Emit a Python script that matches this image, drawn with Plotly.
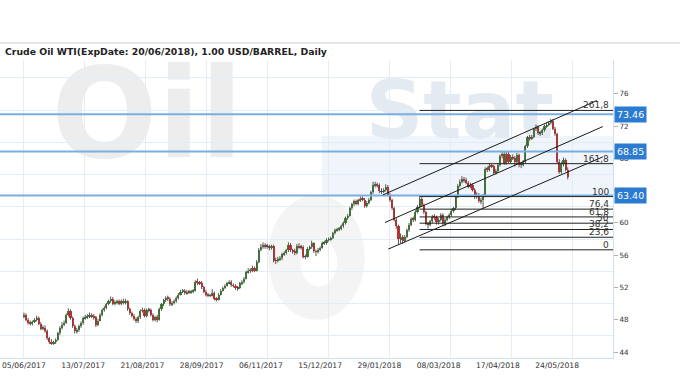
import plotly.graph_objects as go

# ---------------- data ----------------
closes = [48.6, 48.0, 47.6, 47.5, 47.7, 48.0, 48.2, 47.5, 46.9, 47.0,
          46.6, 45.7, 45.3, 45.1, 45.2, 45.5, 46.3, 47.0, 47.4, 47.6,
          48.6, 49.1, 48.2, 47.2, 46.6, 46.7, 47.2, 47.6, 48.2, 48.3,
          48.4, 48.6, 48.4, 48.3, 47.3, 47.9, 48.6, 49.2, 49.5, 49.9,
          50.3, 50.6, 50.0, 50.1, 50.3, 50.0, 50.3, 50.1, 50.3, 49.3,
          48.8, 48.5, 48.1, 47.8, 48.3, 49.1, 49.2, 48.5, 49.2, 49.2,
          48.6, 48.0, 48.3, 48.0, 49.3, 49.9, 50.4, 50.7, 50.6, 49.9,
          50.1, 50.3, 50.7, 51.1, 51.5, 51.6, 51.3, 51.5, 51.4, 51.5,
          51.6, 52.7, 52.6, 52.5, 52.0, 51.5, 51.1, 51.0, 51.0, 51.3,
          50.6, 50.5, 51.1, 51.6, 51.9, 52.2, 52.5, 52.7, 52.3, 52.2,
          51.9, 51.9, 52.5, 52.7, 53.1, 53.9, 54.1, 54.1, 54.4, 54.1,
          55.2, 56.7, 57.0, 57.3, 57.1, 57.1, 56.9, 57.1, 55.3, 55.3,
          55.5, 55.6, 56.1, 56.3, 56.6, 57.3, 56.6, 56.5, 56.3, 57.2,
          57.0, 57.0, 55.8, 55.8, 56.8, 57.0, 57.5, 56.5, 56.4, 56.7,
          56.9, 57.5, 57.5, 57.9, 58.0, 58.1, 58.7, 59.1, 59.2, 59.3,
          59.6, 60.0, 60.6, 60.9, 61.8, 62.3, 62.7, 62.4, 62.8, 63.0,
          62.9, 62.1, 62.5, 62.9, 63.8, 64.7, 64.8, 64.7, 63.9, 63.9,
          64.1, 64.5, 63.5, 62.8, 61.8, 60.4, 59.6, 58.0, 58.2, 57.8,
          58.3, 59.1, 59.8, 60.5, 60.4, 61.4, 62.0, 63.0, 62.2, 61.3,
          59.9, 59.8, 60.2, 60.8, 60.7, 60.1, 60.4, 61.0, 60.0, 60.4,
          60.7, 61.0, 61.5, 61.8, 63.3, 64.6, 65.1, 65.5, 65.3, 65.0,
          64.5, 64.7, 64.1, 63.2, 63.5, 62.7, 62.9, 63.4, 66.7, 66.6,
          67.1, 67.0, 66.2, 66.4, 67.2, 68.3, 68.6, 67.4, 68.6, 67.6,
          68.2, 68.0, 67.5, 68.4, 67.2, 67.2, 67.6, 69.5, 70.6, 70.5,
          70.7, 71.6, 71.9, 71.1, 71.1, 71.5, 72.0, 72.2, 72.4, 72.7,
          71.7, 71.0, 67.6, 66.3, 67.3, 67.8, 66.6, 65.7]

opens = [48.4, 48.6, 48.0, 47.6, 47.5, 47.7, 48.0, 48.2, 47.5, 46.9,
         47.0, 46.6, 45.7, 45.3, 45.1, 45.2, 45.5, 46.3, 47.0, 47.4,
         47.6, 48.6, 49.1, 48.2, 47.2, 46.6, 46.7, 47.2, 47.6, 48.2,
         48.3, 48.4, 48.6, 48.4, 48.3, 47.3, 47.9, 48.6, 49.2, 49.5,
         49.9, 50.3, 50.6, 50.0, 50.1, 50.3, 50.0, 50.3, 50.1, 50.3,
         49.3, 48.8, 48.5, 48.1, 47.8, 48.3, 49.1, 49.2, 48.5, 49.2,
         49.2, 48.6, 48.0, 48.3, 48.0, 49.3, 49.9, 50.4, 50.7, 50.6,
         49.9, 50.1, 50.3, 50.7, 51.1, 51.5, 51.6, 51.3, 51.5, 51.4,
         51.5, 51.6, 52.7, 52.6, 52.5, 52.0, 51.5, 51.1, 51.0, 51.0,
         51.3, 50.6, 50.5, 51.1, 51.6, 51.9, 52.2, 52.5, 52.7, 52.3,
         52.2, 51.9, 51.9, 52.5, 52.7, 53.1, 53.9, 54.1, 54.1, 54.4,
         54.1, 55.2, 56.7, 57.0, 57.3, 57.1, 57.1, 56.9, 57.1, 55.3,
         55.3, 55.5, 55.6, 56.1, 56.3, 56.6, 57.3, 56.6, 56.5, 56.3,
         57.2, 57.0, 57.0, 55.8, 55.8, 56.8, 57.0, 57.5, 56.5, 56.4,
         56.7, 56.9, 57.5, 57.5, 57.9, 58.0, 58.1, 58.7, 59.1, 59.2,
         59.3, 59.6, 60.0, 60.6, 60.9, 61.8, 62.3, 62.7, 62.4, 62.8,
         63.0, 62.9, 62.1, 62.5, 62.9, 63.8, 64.7, 64.8, 64.7, 63.9,
         63.9, 64.1, 64.5, 63.5, 62.8, 61.8, 60.4, 59.6, 58.0, 58.2,
         57.8, 58.3, 59.1, 59.8, 60.5, 60.4, 61.4, 62.0, 63.0, 62.2,
         61.3, 59.9, 59.8, 60.2, 60.8, 60.7, 60.1, 60.4, 61.0, 60.0,
         60.4, 60.7, 61.0, 61.5, 61.8, 63.3, 64.6, 65.1, 65.5, 65.3,
         65.0, 64.5, 64.7, 64.1, 63.2, 63.5, 62.7, 62.9, 63.4, 66.7,
         66.6, 67.1, 67.0, 66.2, 66.4, 67.2, 68.3, 68.6, 67.4, 68.6,
         67.6, 68.2, 68.0, 67.5, 68.4, 67.2, 67.2, 67.6, 69.5, 70.6,
         70.5, 70.7, 71.6, 71.9, 71.1, 71.1, 71.5, 72.0, 72.2, 72.4,
         72.7, 71.7, 71.0, 67.6, 66.3, 67.3, 67.8, 66.6]

highs = [48.9, 48.8, 48.2, 47.9, 47.9, 48.2, 48.5, 48.4, 47.7, 47.3,
         47.3, 46.8, 45.9, 45.6, 45.4, 45.7, 46.5, 47.2, 47.7, 47.9,
         48.8, 49.4, 49.3, 48.4, 47.4, 47.0, 47.4, 47.8, 48.4, 48.6,
         48.7, 48.9, 48.8, 48.7, 48.5, 48.1, 48.8, 49.4, 49.7, 50.1,
         50.5, 50.9, 50.8, 50.4, 50.5, 50.5, 50.5, 50.6, 50.6, 50.4,
         49.5, 49.0, 48.7, 48.3, 48.5, 49.3, 49.5, 49.4, 49.4, 49.5,
         49.4, 48.8, 48.5, 48.6, 49.5, 50.1, 50.6, 50.9, 51.0, 50.8,
         50.3, 50.5, 50.9, 51.3, 51.7, 51.8, 51.8, 51.7, 51.7, 51.7,
         51.8, 52.9, 53.1, 52.8, 52.8, 52.2, 51.7, 51.3, 51.2, 51.8,
         51.5, 50.8, 51.3, 51.8, 52.1, 52.4, 52.7, 52.9, 52.9, 52.5,
         52.4, 52.2, 52.7, 52.9, 53.3, 54.1, 54.4, 54.4, 54.7, 54.6,
         55.4, 56.9, 57.4, 57.6, 57.5, 57.4, 57.3, 57.3, 57.3, 55.7,
         55.8, 55.9, 56.3, 56.5, 56.8, 57.6, 57.5, 56.8, 56.8, 57.4,
         57.5, 57.3, 57.2, 56.1, 57.0, 57.2, 57.8, 57.6, 56.7, 56.9,
         57.1, 57.7, 57.8, 58.1, 58.2, 58.3, 58.9, 59.3, 59.4, 59.5,
         59.8, 60.2, 60.8, 61.1, 62.0, 62.5, 62.9, 62.9, 63.0, 63.3,
         63.3, 63.1, 62.7, 63.1, 64.0, 65.1, 65.1, 65.0, 64.9, 64.3,
         64.3, 64.8, 64.7, 63.7, 63.0, 62.0, 60.6, 59.8, 58.7, 58.5,
         58.5, 59.3, 60.0, 60.7, 60.8, 61.6, 62.2, 63.3, 63.2, 62.4,
         61.5, 60.1, 60.4, 61.0, 61.1, 60.9, 60.6, 61.2, 61.2, 60.6,
         60.9, 61.2, 61.7, 62.0, 63.5, 64.8, 65.4, 65.8, 65.7, 65.6,
         65.2, 65.0, 64.9, 64.3, 63.8, 63.7, 63.1, 63.6, 66.9, 67.0,
         67.4, 67.3, 67.2, 66.7, 67.4, 68.5, 68.9, 68.8, 68.8, 68.9,
         68.4, 68.5, 68.3, 68.7, 68.6, 67.5, 67.8, 69.7, 70.8, 70.9,
         70.9, 71.8, 72.2, 72.1, 71.4, 71.7, 72.2, 72.4, 72.6, 72.9,
         72.9, 71.9, 71.2, 67.9, 67.6, 68.1, 68.0, 66.9]

lows = [48.2, 47.8, 47.4, 47.3, 47.3, 47.6, 47.8, 47.3, 46.7, 46.7,
        46.4, 45.5, 45.0, 44.9, 44.9, 45.0, 45.4, 46.1, 46.8, 47.2,
        47.5, 48.4, 48.0, 47.0, 46.3, 46.3, 46.5, 47.0, 47.4, 48.0,
        48.1, 48.2, 48.2, 48.0, 47.1, 47.2, 47.8, 48.4, 49.0, 49.3,
        49.8, 50.1, 49.8, 49.8, 49.9, 49.8, 49.8, 49.9, 49.9, 49.1,
        48.6, 48.3, 47.9, 47.6, 47.6, 48.1, 48.9, 48.3, 48.3, 48.9,
        48.4, 47.8, 47.8, 47.7, 47.9, 49.1, 49.7, 50.2, 50.3, 49.7,
        49.7, 49.9, 50.1, 50.5, 51.0, 51.3, 51.1, 51.1, 51.2, 51.2,
        51.3, 51.5, 52.3, 52.3, 51.8, 51.3, 50.9, 50.8, 50.8, 50.9,
        50.4, 50.3, 50.4, 51.0, 51.5, 51.8, 52.1, 52.4, 52.1, 52.0,
        51.7, 51.6, 51.8, 52.3, 52.5, 53.0, 53.7, 53.8, 53.9, 53.9,
        54.0, 55.0, 56.5, 56.8, 56.8, 56.8, 56.6, 56.7, 55.1, 54.9,
        55.1, 55.3, 55.4, 55.9, 56.1, 56.4, 56.4, 56.2, 56.0, 56.1,
        56.8, 56.7, 55.6, 55.5, 55.7, 56.6, 56.8, 56.3, 55.9, 56.2,
        56.5, 56.8, 57.3, 57.3, 57.7, 57.8, 58.0, 58.6, 58.9, 59.0,
        59.1, 59.4, 59.8, 60.4, 60.8, 61.6, 62.1, 62.2, 62.2, 62.6,
        62.7, 61.9, 61.9, 62.3, 62.7, 63.6, 64.4, 64.4, 63.7, 63.6,
        63.7, 63.9, 63.3, 62.6, 61.6, 60.2, 59.3, 57.3, 57.5, 57.4,
        57.6, 58.1, 58.9, 59.6, 60.1, 60.2, 61.2, 61.8, 62.0, 61.1,
        59.7, 59.3, 59.6, 60.0, 60.4, 59.8, 59.8, 60.2, 59.6, 59.6,
        60.2, 60.5, 60.8, 61.3, 61.6, 63.1, 64.4, 64.9, 65.0, 64.8,
        64.3, 64.3, 63.9, 63.0, 63.0, 62.5, 62.3, 61.8, 63.2, 66.3,
        66.4, 66.8, 66.0, 66.0, 66.2, 67.0, 68.0, 67.2, 67.2, 67.4,
        67.4, 67.8, 67.0, 67.3, 66.9, 66.8, 67.0, 67.4, 69.3, 70.2,
        70.3, 70.5, 71.4, 70.9, 70.8, 70.9, 71.3, 71.8, 72.0, 72.2,
        71.5, 70.8, 67.4, 66.1, 66.1, 67.0, 66.4, 65.4]

tick_bars = [0, 28, 56, 84, 112, 140, 168, 196, 224, 252]
tick_labels = ["05/06/2017", "13/07/2017", "21/08/2017", "28/09/2017", "06/11/2017",
               "15/12/2017", "29/01/2018", "08/03/2018", "17/04/2018", "24/05/2018"]
price_ticks = [44, 48, 52, 56, 60, 64, 68, 72, 76]

level_values = [73.46, 68.85, 63.40]
level_labels = ["73.46", "68.85", "63.40"]

fib_low = 56.67
fib_high = 63.27
fib_start_bar = 187
fib_ratios = [0, 23.6, 38.2, 50, 61.8, 76.4, 100, 161.8, 261.8]
fib_labels = ["0", "23,6", "38,2", "50", "61,8", "76,4", "100", "161,8", "261,8"]

# channel lines: (bar0, price0, bar1, price1)
channel_upper = [169.7, 63.48, 270.8, 75.17]
channel_middle = [170.6, 60.05, 273.6, 71.95]
channel_lower = [172.2, 56.76, 273.6, 68.19]

title_text = "Crude Oil WTI(ExpDate: 20/06/2018), 1.00 USD/BARREL, Daily"

# ---------------- figure ----------------
X_MIN, X_MAX = -11.3, 278.4
Y_MIN, Y_MAX = 43.26, 80.2
GREEN = "#378a24"
RED = "#f61c1c"
WICK = "#555555"
GRID = "#e2edf8"
AXIS = "#cfe0f0"
FONT = "DejaVu Sans"

n = len(closes)
idx = list(range(n))

wx, wy = [], []
for i in idx:
    wx += [i, i, None]
    wy += [lows[i], highs[i], None]

body_base = [min(opens[i], closes[i]) for i in idx]
body_h = [max(abs(closes[i] - opens[i]), 0.06) for i in idx]
body_col = [GREEN if closes[i] > opens[i] else (RED if closes[i] < opens[i] else "#444444") for i in idx]

fig = go.Figure()
fig.add_trace(go.Scatter(x=wx, y=wy, mode="lines", line=dict(color=WICK, width=1),
                         hoverinfo="skip", showlegend=False))
fig.add_trace(go.Bar(x=idx, y=body_h, base=body_base, width=1.0,
                     marker=dict(color=body_col, line=dict(width=0)),
                     showlegend=False))

shapes = []
# watermark (decorative, below grid)
shapes.append(dict(type="rect", xref="paper", yref="paper", x0=0.525, x1=1.0, y0=0.548, y1=0.745,
                   fillcolor="#eff5fb", line=dict(width=0), layer="below"))
shapes.append(dict(type="rect", xref="paper", yref="paper", x0=0.08, x1=0.40, y0=0.64, y1=1.06,
                   fillcolor="rgba(0,0,0,0)", line=dict(width=0), layer="below",
                   label=dict(text="Oil", font=dict(size=125, color="#ededed", family=FONT, weight="bold"))))
shapes.append(dict(type="rect", xref="paper", yref="paper", x0=0.58, x1=0.92, y0=0.72, y1=0.98,
                   fillcolor="rgba(0,0,0,0)", line=dict(width=0), layer="below",
                   label=dict(text="Stat", font=dict(size=80, color="#e4eaf1", family=FONT, weight="bold"))))
shapes.append(dict(type="circle", xref="paper", yref="paper", x0=0.437, x1=0.595, y0=0.128, y1=0.547,
                   fillcolor="#f4f4f4", line=dict(width=0), layer="below"))
shapes.append(dict(type="circle", xref="paper", yref="paper", x0=0.49, x1=0.55, y0=0.24, y1=0.40,
                   fillcolor="#ffffff", line=dict(width=0), layer="below"))

# title separator
shapes.append(dict(type="line", xref="paper", yref="paper", x0=-0.01, x1=1.12, y0=1.057, y1=1.057,
                   line=dict(color="#cccccc", width=1)))

# horizontal blue levels
for v in level_values:
    shapes.append(dict(type="line", xref="paper", yref="y", x0=0, x1=1, y0=v, y1=v,
                       line=dict(color="#7aaee0", width=2), layer="above"))

# fibonacci levels
fib_levels = [fib_low + r / 100.0 * (fib_high - fib_low) for r in fib_ratios]
for lv in fib_levels:
    shapes.append(dict(type="line", xref="x", yref="y", x0=fib_start_bar, x1=X_MAX, y0=lv, y1=lv,
                       line=dict(color="#222222", width=1)))

# channel lines
for ch in (channel_upper, channel_middle, channel_lower):
    shapes.append(dict(type="line", xref="x", yref="y", x0=ch[0], y0=ch[1], x1=ch[2], y1=ch[3],
                       line=dict(color="#1a1a1a", width=1)))

annotations = []
annotations.append(dict(text="<b>" + title_text + "</b>", xref="paper", yref="paper",
                        x=0.005, y=1.03, xanchor="left", yanchor="middle", showarrow=False,
                        font=dict(family=FONT, size=9.3, color="#222222")))
for lv, lab in zip(fib_levels, fib_labels):
    annotations.append(dict(text=lab, xref="paper", yref="y", x=0.997, y=lv,
                            xanchor="right", yanchor="bottom", showarrow=False, yshift=-2,
                            font=dict(family=FONT, size=9, color="#333333")))
for v, lab in zip(level_values, level_labels):
    annotations.append(dict(text=lab, xref="paper", yref="y", x=1.0, y=v, xshift=1,
                            xanchor="left", yanchor="middle", showarrow=False,
                            bgcolor="#2a7bd1", borderpad=2,
                            font=dict(family=FONT, size=9.5, color="#ffffff")))

fig.update_layout(
    width=680, height=380,
    margin=dict(l=0, r=67, t=60, b=22),
    paper_bgcolor="white", plot_bgcolor="white",
    shapes=shapes, annotations=annotations,
    showlegend=False, bargap=0,
    xaxis=dict(range=[X_MIN, X_MAX], tickvals=tick_bars, ticktext=tick_labels,
               showgrid=False, zeroline=False, showline=True, linecolor=AXIS,
               ticks="", tickfont=dict(family=FONT, size=7.6, color="#333333"),
               minor=dict(tick0=0, dtick=28.8, showgrid=True, gridcolor=GRID, gridwidth=1)),
    yaxis=dict(range=[Y_MIN, Y_MAX], side="right", tickvals=price_ticks,
               showgrid=False, zeroline=False, showline=True, linecolor=AXIS,
               ticks="outside", ticklen=4, tickcolor="#b0b0b0",
               tickfont=dict(family=FONT, size=7.2, color="#333333"),
               minor=dict(tick0=46, dtick=4, showgrid=True, gridcolor=GRID, gridwidth=1)),
)

fig.write_html("out.html", config={"displayModeBar": False},
               post_script="document.body.style.margin='0px';")
